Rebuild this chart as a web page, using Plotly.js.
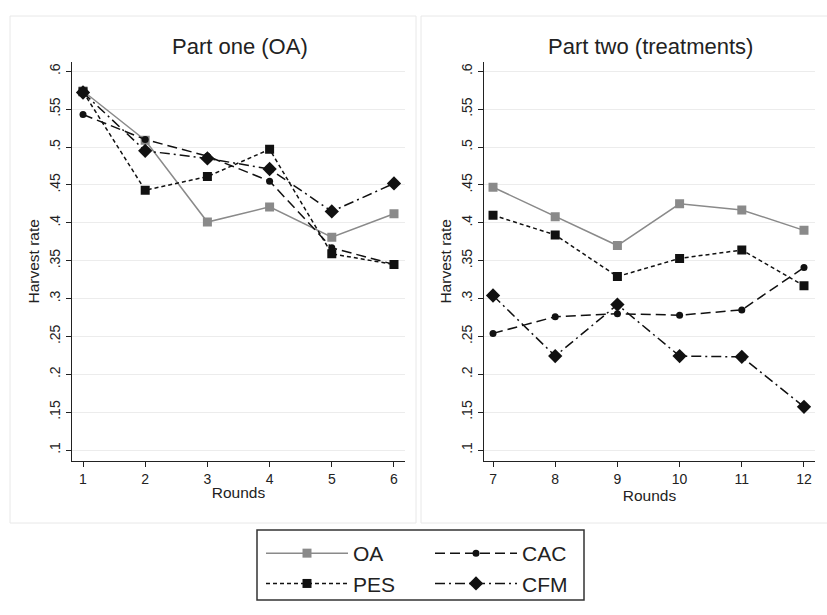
<!DOCTYPE html>
<html><head><meta charset="utf-8">
<script src="https://cdn.plot.ly/plotly-3.0.1.min.js"></script>
<style>html,body{margin:0;padding:0;background:#fff}</style>
</head><body><div id="chart" style="width:827px;height:615px"></div>
<script>
const roundsPart1 = [1, 2, 3, 4, 5, 6];
const roundsPart2 = [7, 8, 9, 10, 11, 12];
const oaPart1  = [0.574, 0.509, 0.401, 0.421, 0.381, 0.412];
const pesPart1 = [0.573, 0.443, 0.461, 0.497, 0.359, 0.345];
const cacPart1 = [0.543, 0.510, 0.488, 0.455, 0.367, 0.345];
const cfmPart1 = [0.572, 0.495, 0.485, 0.471, 0.415, 0.452];
const oaPart2  = [0.447, 0.408, 0.370, 0.425, 0.417, 0.390];
const pesPart2 = [0.410, 0.384, 0.329, 0.353, 0.364, 0.317];
const cacPart2 = [0.254, 0.276, 0.280, 0.278, 0.285, 0.341];
const cfmPart2 = [0.304, 0.224, 0.292, 0.224, 0.223, 0.157];
const yTickVals = [0.1, 0.15, 0.2, 0.25, 0.3, 0.35, 0.4, 0.45, 0.5, 0.55, 0.6];
const yTickText = ['.1', '.15', '.2', '.25', '.3', '.35', '.4', '.45', '.5', '.55', '.6'];
const panelTitles = ['Part one (OA)', 'Part two (treatments)'];
const xTitle = 'Rounds';
const yTitle = 'Harvest rate';

const FONT = 'Liberation Sans, Arial, sans-serif';
const W = 827, H = 615;
const styles = {
  OA:  {legend: 'legend',  line: {color: '#8a8a8a', width: 1.5, dash: 'solid'}, marker: {symbol: 'square', size: 9, color: '#8a8a8a'}},
  PES: {legend: 'legend',  line: {color: '#111', width: 1.5, dash: '4px,3px'}, marker: {symbol: 'square', size: 9, color: '#111'}},
  CAC: {legend: 'legend2', line: {color: '#111', width: 1.5, dash: '10px,5px'}, marker: {symbol: 'circle', size: 7, color: '#111'}},
  CFM: {legend: 'legend2', line: {color: '#111', width: 1.5, dash: '10px,4px,2px,4px'}, marker: {symbol: 'diamond', size: 11, color: '#111'}}
};
const part1 = {OA: oaPart1, PES: pesPart1, CAC: cacPart1, CFM: cfmPart1};
const part2 = {OA: oaPart2, PES: pesPart2, CAC: cacPart2, CFM: cfmPart2};

const data = [];
['OA', 'PES', 'CAC', 'CFM'].forEach(name => {
  const s = styles[name];
  data.push({x: roundsPart1, y: part1[name], name: name, type: 'scatter', mode: 'lines+markers',
    xaxis: 'x', yaxis: 'y', legend: s.legend, legendgroup: name, showlegend: true, line: s.line, marker: s.marker});
  data.push({x: roundsPart2, y: part2[name], name: name, type: 'scatter', mode: 'lines+markers',
    xaxis: 'x2', yaxis: 'y2', legend: s.legend, legendgroup: name, showlegend: false, line: s.line, marker: s.marker});
});

const px = v => v / W;
const py = v => (H - v) / H;

function xAxis(domain, range, ticks, anchor) {
  return {domain: domain, range: range, tickmode: 'array', tickvals: ticks, ticks: 'outside', ticklen: 5,
    tickwidth: 1, tickcolor: '#222', showline: true, linecolor: '#222', linewidth: 1.5, showgrid: false,
    zeroline: false, anchor: anchor, tickfont: {family: FONT, size: 14, color: '#222'},
    title: {text: xTitle, font: {family: FONT, size: 15.5, color: '#222'}, standoff: 1}};
}
function yAxis(anchor) {
  return {domain: [py(460.7), py(62)], range: [0.0859, 0.6123], tickmode: 'array', tickvals: yTickVals,
    ticktext: yTickText, tickangle: -90, ticks: 'outside', ticklen: 5, tickwidth: 1, tickcolor: '#222',
    showline: true, linecolor: '#222', linewidth: 1.5, showgrid: true, gridcolor: '#ececec', gridwidth: 1,
    zeroline: false, anchor: anchor, tickfont: {family: FONT, size: 14, color: '#222'},
    title: {text: yTitle, font: {family: FONT, size: 15.5, color: '#222'}, standoff: 3}};
}
function legendAt(left) {
  return {orientation: 'v', x: px(left), y: py(533), xanchor: 'left', yanchor: 'top',
    borderwidth: 0, bgcolor: 'rgba(0,0,0,0)', font: {family: FONT, size: 21, color: '#222'},
    itemwidth: 82, tracegroupgap: 0};
}

const layout = {
  width: W, height: H, margin: {l: 0, r: 0, t: 0, b: 0},
  paper_bgcolor: '#fff', plot_bgcolor: '#fff',
  font: {family: FONT, color: '#222'},
  xaxis: xAxis([px(72), px(405)], [0.823, 6.177], roundsPart1, 'y'),
  yaxis: yAxis('x'),
  xaxis2: xAxis([px(484), px(815)], [6.855, 12.177], roundsPart2, 'y2'),
  yaxis2: yAxis('x2'),
  annotations: [
    {text: panelTitles[0], xref: 'paper', yref: 'paper', x: px(240), y: py(46), xanchor: 'center', yanchor: 'middle',
      showarrow: false, font: {family: FONT, size: 22, color: '#222'}},
    {text: panelTitles[1], xref: 'paper', yref: 'paper', x: px(650), y: py(46), xanchor: 'center', yanchor: 'middle',
      showarrow: false, font: {family: FONT, size: 22, color: '#222'}}
  ],
  shapes: [
    {type: 'rect', xref: 'paper', yref: 'paper', x0: px(10), x1: px(416), y0: py(523), y1: py(16), line: {color: '#e8e8e8', width: 1}, layer: 'below'},
    {type: 'rect', xref: 'paper', yref: 'paper', x0: px(421), x1: px(827.5), y0: py(523), y1: py(16), line: {color: '#e8e8e8', width: 1}, layer: 'below'},
    {type: 'rect', xref: 'paper', yref: 'paper', x0: px(257), x1: px(584), y0: py(600), y1: py(530), line: {color: '#333', width: 1.5}, layer: 'below'}
  ],
  legend: legendAt(261),
  legend2: legendAt(430)
};

Plotly.newPlot('chart', data, layout, {displayModeBar: false, staticPlot: true});
</script></body></html>
